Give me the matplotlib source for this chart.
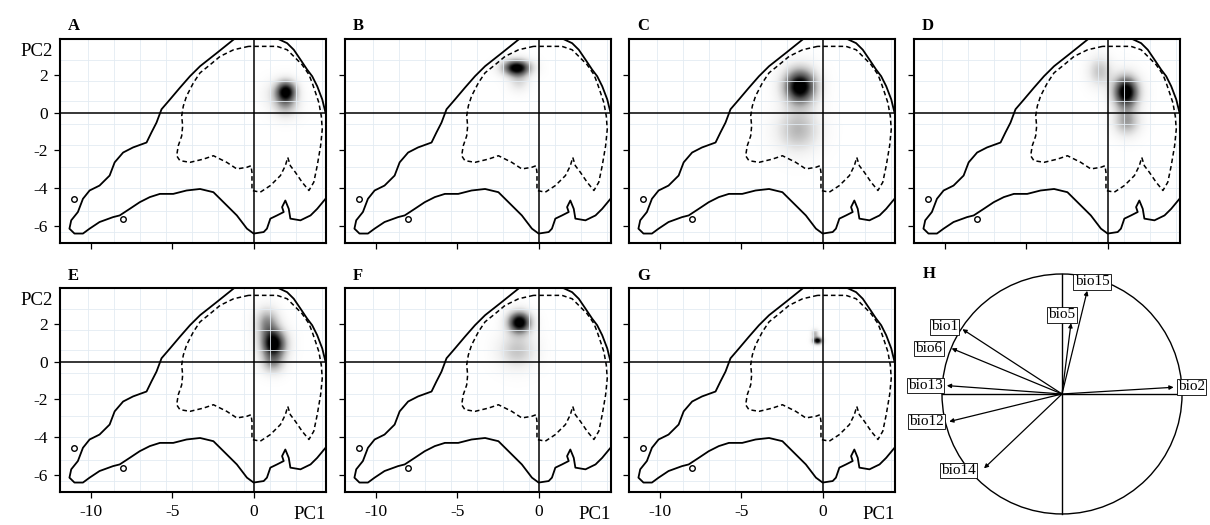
import matplotlib
matplotlib.use("Agg")
import matplotlib.pyplot as plt
from matplotlib.patches import Circle
import numpy as np

plt.rcParams["font.family"] = ["Liberation Serif", "DejaVu Serif"]

# outer boundary of the available environmental space (PC1, PC2), solid line
outer_x = [-0.9, -2.26, -3.29, -3.91, -4.53, -5.14, -5.66, -5.97, -6.28, -6.58,
           -7.41, -8.02, -8.54, -8.85, -9.47, -10.08, -10.49, -10.80, -11.21, -11.32,
           -11.01, -10.49, -10.08, -9.47, -8.64, -8.23, -7.61, -7.00, -6.38, -5.76,
           -4.94, -4.12, -3.29, -2.47, -2.06, -1.65, -1.03, -0.41, 0.0, 0.62,
           0.82, 1.03, 1.44, 1.85, 1.75, 1.95, 2.16, 2.26, 2.88, 3.50,
           3.91, 4.42, 4.94, 4.94, 4.42, 4.22, 3.91, 3.60, 3.29, 2.88,
           2.47, 2.06, 1.54, 0.82, 0.0, -0.9]
outer_y = [4.1, 3.16, 2.46, 1.93, 1.32, 0.70, 0.18, -0.53, -1.05, -1.58,
           -1.84, -2.11, -2.63, -3.33, -3.86, -4.12, -4.56, -5.26, -5.70, -6.14,
           -6.40, -6.40, -6.14, -5.79, -5.53, -5.44, -5.09, -4.74, -4.47, -4.30,
           -4.30, -4.12, -4.04, -4.21, -4.56, -4.91, -5.44, -6.14, -6.40, -6.32,
           -6.14, -5.61, -5.44, -5.26, -5.00, -4.65, -5.09, -5.61, -5.70, -5.44,
           -5.09, -4.56, -4.04, -1.05, 0.0, 0.70, 1.40, 1.93, 2.28, 2.81,
           3.33, 3.68, 3.89, 4.0, 4.3, 4.1]

# inner boundary, dashed line
inner_x = [-0.31, -1.23, -2.06, -2.67, -3.29, -3.70, -4.12, -4.32, -4.42, -4.36,
           -4.42, -4.63, -4.73, -4.53, -3.91, -3.09, -2.47, -1.65, -1.03, -0.41,
           -0.16, -0.10, -0.10, 0.41, 1.03, 1.65, 1.95, 2.10, 2.26, 2.57,
           2.98, 3.40, 3.70, 3.91, 4.12, 4.22, 4.16, 4.01, 3.81, 3.60,
           3.40, 2.98, 2.47, 2.06, 1.44, 0.82, 0.0, -0.31]
inner_y = [3.51, 3.33, 2.98, 2.54, 2.11, 1.58, 0.88, 0.35, -0.18, -0.70,
           -1.23, -1.75, -2.28, -2.54, -2.63, -2.46, -2.28, -2.63, -2.98, -2.89,
           -2.81, -3.16, -4.12, -4.21, -3.86, -3.33, -2.81, -2.37, -2.81, -3.16,
           -3.68, -4.12, -3.68, -2.81, -1.75, -0.88, -0.18, 0.53, 1.05, 1.58,
           2.02, 2.54, 2.98, 3.33, 3.51, 3.51, 3.51, 3.51]

# two tiny isolated patches of the outer contour
island_x = [-11.07, -8.02]
island_y = [-4.56, -5.61]

x_ticks = [-10, -5, 0]
y_ticks = [2, 0, -2, -4, -6]
grid_x = [-10.2, -8.6, -7.0, -5.4, -3.8, -2.2, -0.6, 1.0, 2.6, 4.2]
grid_y = [-6.3, -5.2, -4.0, -2.9, -1.7, -0.6, 0.6, 1.7, 2.8]

# density blobs per panel: centre x, centre y, spread x, spread y, weight
blob_a = [(2.02, 1.14, 0.45, 0.40, 1.0), (2.0, 0.35, 0.55, 0.45, 0.35), (1.3, 1.0, 0.6, 0.5, 0.12)]
blob_b = [(-1.34, 2.40, 0.60, 0.30, 1.0), (-1.2, 1.7, 0.45, 0.40, 0.22)]
blob_c = [(-1.38, 1.40, 0.70, 0.65, 1.0), (-1.5, -0.9, 0.90, 0.80, 0.35)]
blob_d = [(1.10, 1.10, 0.55, 0.60, 1.0), (-0.5, 2.2, 0.50, 0.55, 0.30), (1.15, -0.5, 0.55, 0.5, 0.4)]
blob_e = [(1.25, 0.95, 0.55, 0.55, 1.0), (0.85, 2.1, 0.50, 0.55, 0.45), (1.2, -0.1, 0.5, 0.4, 0.35)]
blob_f = [(-1.17, 2.10, 0.50, 0.40, 1.0), (-1.3, 0.6, 0.80, 0.65, 0.30)]
blob_g = [(-0.30, 1.12, 0.20, 0.13, 1.0), (-0.45, 1.5, 0.15, 0.16, 0.35)]
panel_blobs = [blob_a, blob_b, blob_c, blob_d, blob_e, blob_f, blob_g]
panel_letters = ["A", "B", "C", "D", "E", "F", "G"]

# correlation circle (panel H)
var_names = ["bio15", "bio5", "bio1", "bio6", "bio13", "bio12", "bio14", "bio2"]
var_x = [0.21, 0.075, -0.83, -0.92, -0.96, -0.94, -0.65, 0.93]
var_y = [0.86, 0.59, 0.54, 0.38, 0.07, -0.23, -0.62, 0.056]

# label offsets from arrow tips (layout)
lab_dx = [0.04, -0.075, -0.15, -0.19, -0.18, -0.19, -0.21, 0.15]
lab_dy = [0.075, 0.07, 0.02, 0.0, 0.0, 0.0, -0.02, 0.004]

W, H = 1210, 525
fig = plt.figure(figsize=(W / 100, H / 100), dpi=100)

xlim = (-11.9, 4.45)
ylim = (-6.9, 3.9)
lefts = [60, 345, 629, 914]
tops = [39, 288]
pw, ph = 266, 204

gx = np.linspace(xlim[0], xlim[1], 300)
gy = np.linspace(ylim[0], ylim[1], 220)
GX, GY = np.meshgrid(gx, gy)

for i, letter in enumerate(panel_letters):
    row, col = divmod(i, 4)
    left, top = lefts[col], tops[row]
    ax = fig.add_axes([left / W, 1 - (top + ph) / H, pw / W, ph / H])

    dens = np.zeros_like(GX)
    for cx, cy, sx, sy, w in panel_blobs[i]:
        dens += w * np.exp(-0.5 * (((GX - cx) / sx) ** 2 + ((GY - cy) / sy) ** 2))
    dens /= dens.max()
    ax.imshow(dens, extent=(xlim[0], xlim[1], ylim[0], ylim[1]), origin="lower",
              aspect="auto", cmap="Greys", vmin=0, vmax=0.88,
              interpolation="bilinear", zorder=0)

    for g in grid_x:
        ax.axvline(g, color="#e3ebf2", lw=0.6, zorder=1)
    for g in grid_y:
        ax.axhline(g, color="#e3ebf2", lw=0.6, zorder=1)
    ax.axhline(0, color="black", lw=1.1, zorder=2)
    ax.axvline(0, color="black", lw=1.1, zorder=2)

    ax.plot(outer_x, outer_y, color="black", lw=1.3, zorder=3)
    ax.plot(inner_x, inner_y, color="black", lw=1.1, ls=(0, (3, 2)), zorder=3)
    ax.plot(island_x, island_y, ls="none", marker="o", ms=4, mfc="none",
            mec="black", mew=1.0, zorder=3)

    ax.set_xlim(xlim)
    ax.set_ylim(ylim)
    ax.set_xticks(x_ticks)
    ax.set_yticks(y_ticks)
    ax.tick_params(direction="out", length=4.5, width=0.9, labelsize=12.5, pad=4)
    for s in ax.spines.values():
        s.set_linewidth(1.5)

    if col == 0:
        ax.set_yticklabels([str(v) for v in y_ticks])
        ax.text(-0.026, 0.937, "PC2", transform=ax.transAxes, ha="right",
                va="center", fontsize=13.5)
    else:
        ax.set_yticklabels([])
    if row == 1:
        ax.set_xticklabels([str(v) for v in x_ticks])
        ax.text(1.0, -0.07, "PC1", transform=ax.transAxes, ha="right",
                va="top", fontsize=13.5)
    else:
        ax.set_xticklabels([])

    base = 30 if row == 0 else 280
    fig.text((left + 8) / W, 1 - base / H, letter, fontsize=12,
             fontweight="bold", va="baseline")

# panel H: correlation circle
axh = fig.add_axes([930 / W, 0, 280 / W, 260 / H])
axh.set_xlim(-1.1, 1.233)
axh.set_ylim(-1.092, 1.075)
axh.axis("off")
axh.add_patch(Circle((0, 0), 1, fill=False, ec="black", lw=1.0))
axh.plot([-1, 1], [0, 0], color="black", lw=1.0)
axh.plot([0, 0], [-1, 1], color="black", lw=1.0)
for name, x, y, dx, dy in zip(var_names, var_x, var_y, lab_dx, lab_dy):
    axh.annotate("", xy=(x, y), xytext=(0, 0),
                 arrowprops=dict(arrowstyle="-|>", lw=0.9, color="black",
                                 mutation_scale=6, shrinkA=0, shrinkB=0))
    axh.text(x + dx, y + dy, name, ha="center", va="center", fontsize=11,
             bbox=dict(boxstyle="square,pad=0.08", fc="white", ec="black", lw=0.6),
             clip_on=False)
fig.text(923 / W, 1 - 278 / H, "H", fontsize=12, fontweight="bold", va="baseline")

fig.savefig("out.png", dpi=100)
